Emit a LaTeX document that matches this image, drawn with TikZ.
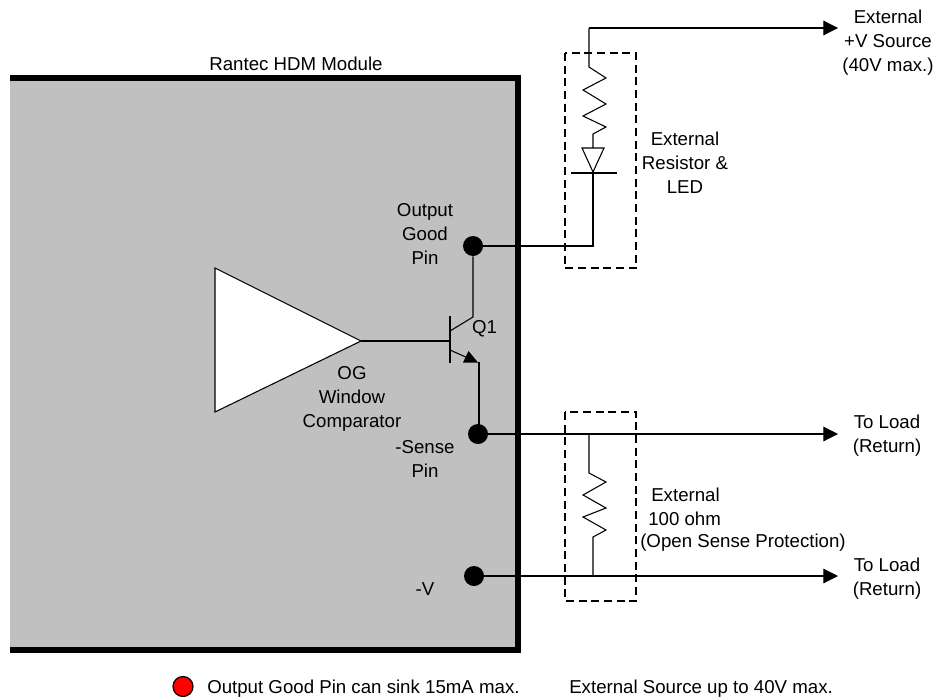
\documentclass[tikz,border=0pt]{standalone}
\usepackage{fontspec}
\setmainfont{Liberation Sans}
\usetikzlibrary{arrows.meta}
\definecolor{modgray}{RGB}{192,192,192}
\tikzset{
  wire/.style={line width=0.8pt},
  lbl/.style={font=\fontsize{14}{18}\selectfont, align=center, inner sep=0pt},
  pin/.style={circle, fill=black, minimum size=15pt, inner sep=0pt},
  extbox/.style={line width=1.1pt, dash pattern=on 6pt off 3.5pt},
}
\begin{document}
\begin{tikzpicture}[x=0.75pt, y=-0.75pt, >={Triangle[length=11pt, width=11pt]}]
  \useasboundingbox (0,0) rectangle (937,696);

  \fill[modgray] (10,75) rectangle (518,650);
  \draw[line width=4.5pt, line cap=butt] (10,78) -- (518,78) -- (518,650) -- (10,650);
  \node[lbl] (modname) at (296,64) {Rantec HDM Module};

  \draw[extbox] (565,53) rectangle (636,268);
  \draw[extbox] (565,412) rectangle (636,601);

  \node[pin] (ogpin) at (473,246) {};
  \node[pin] (sensepin) at (478,434) {};
  \node[pin] (vpin) at (474,576) {};

  \coordinate (vtop) at (589,28);
  \coordinate (vsrc) at (838,28);
  \coordinate (loada) at (838,434);
  \coordinate (loadb) at (838,576);

  % LED string
  \coordinate (ledtop) at (593,148);
  \coordinate (ledtip) at (593,172);
  \coordinate (ledbar) at (593,173);
  \draw[->, wire] (vtop) -- (vsrc);
  \draw[wire] (vtop) -- (589,67) -- (606,78) -- (583,90) -- (606,104) -- (583,116)
    -- (606,127) -- (593,134) -- (ledtop);
  \draw[wire] (582,148) -- (604,148) -- (ledtip) -- cycle;
  \draw[wire] (571,173) -- (617,173);
  \draw[wire] (ogpin) -| (ledbar);

  % comparator and Q1
  \coordinate (cmptip) at (361,341);
  \coordinate (qbase) at (450,341);
  \coordinate (qcol) at (473,317);
  \coordinate (qemi) at (479,362);
  \draw[wire, fill=white] (215,268) -- (cmptip) -- (215,412) -- cycle;
  \draw[wire] (cmptip) -- (qbase);
  \draw[wire] (450,316) -- (450,363);
  \draw[wire] (ogpin) -- (qcol) -- (450,331);
  \draw[wire] (450,350) -- (468,358);
  \fill (463,362.5) -- (468.5,351) -- (478,362.5) -- cycle;
  \draw[wire] (qemi) -- (qemi |- sensepin);

  % sense path
  \draw[->, wire] (sensepin) -- (loada);
  \draw[->, wire] (vpin) -- (loadb);
  \draw[wire] (589,434) -- (589,473) -- (606,482) -- (583,495) -- (606,508) -- (583,517)
    -- (606,530) -- (593,537) -- (593,576);

  \node[lbl] (vsrctxt) at (888,42.5) {External\\+V Source\\(40V max.)};
  \node[lbl] (ledtxt) at (685,162.5) {External\\Resistor \&\\LED};
  \node[lbl] (ogtxt) at (425,233.5) {Output\\Good\\Pin};
  \node[lbl] (qtxt) at (484.5,329) {Q1};
  \node[lbl] (cmptxt) at (352,399) {OG\\Window\\Comparator};
  \node[lbl] (sensetxt) at (425,459) {-Sense\\Pin};
  \node[lbl] (vtxt) at (425,589) {-V};
  \node[lbl] (loadatxt) at (887,436) {To Load\\(Return)};
  \node[lbl] (loadbtxt) at (887,579) {To Load\\(Return)};
  \node[lbl, anchor=west] (ohmtxta) at (651,495) {External};
  \node[lbl, anchor=west] (ohmtxtb) at (648,519) {100 ohm};
  \node[lbl, anchor=west] (ohmtxtc) at (640,543) {(Open Sense Protection)};

  \node[circle, draw, fill=red, minimum size=15pt, inner sep=0pt, line width=0.9pt] (redmark) at (183,686.5) {};
  \node[lbl, anchor=west] (sinktxt) at (207,688.5) {Output Good Pin can sink 15mA max.};
  \node[lbl, anchor=west] (srctxt) at (569,688.5) {External Source up to 40V max.};
\end{tikzpicture}
\end{document}
